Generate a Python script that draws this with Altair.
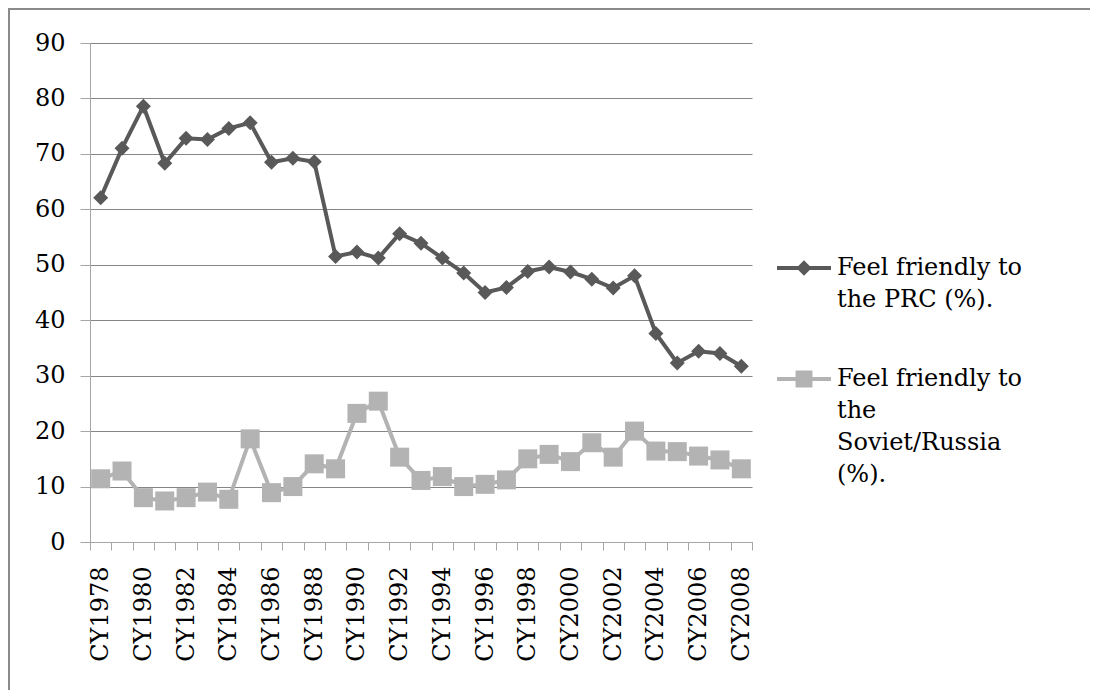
import altair as alt
import pandas as pd

years = ["CY1978", "CY1979", "CY1980", "CY1981", "CY1982", "CY1983", "CY1984", "CY1985",
         "CY1986", "CY1987", "CY1988", "CY1989", "CY1990", "CY1991", "CY1992", "CY1993",
         "CY1994", "CY1995", "CY1996", "CY1997", "CY1998", "CY1999", "CY2000", "CY2001",
         "CY2002", "CY2003", "CY2004", "CY2005", "CY2006", "CY2007", "CY2008"]
prc = [62.1, 71.0, 78.6, 68.3, 72.8, 72.6, 74.6, 75.6, 68.5, 69.2, 68.6, 51.5, 52.3, 51.2,
       55.6, 53.9, 51.2, 48.5, 45.0, 45.9, 48.8, 49.6, 48.7, 47.4, 45.8, 48.0, 37.6, 32.3,
       34.4, 34.0, 31.7]
russia = [11.4, 12.8, 8.0, 7.4, 8.0, 9.0, 7.7, 18.6, 8.9, 10.0, 14.1, 13.2, 23.2, 25.4,
          15.3, 11.1, 11.8, 10.0, 10.4, 11.2, 15.0, 15.8, 14.5, 17.9, 15.3, 20.0, 16.4, 16.3,
          15.5, 14.8, 13.2]
series_names = ["Feel friendly to the PRC (%).", "Feel friendly to the Soviet/Russia (%)."]
y_ticks = [0, 10, 20, 30, 40, 50, 60, 70, 80, 90]

DARK = "#595959"
LIGHT = "#b3b3b3"
FONT = "DejaVu Serif"

df = pd.DataFrame({
    "year": years + years,
    "value": prc + russia,
    "series": [series_names[0]] * len(years) + [series_names[1]] * len(years),
})

x_enc = alt.X(
    "year:N", sort=years,
    scale=alt.Scale(type="band", paddingInner=0, paddingOuter=0),
    axis=alt.Axis(
        title=None, tickBand="extent", labelAngle=270, labelOverlap=False,
        labelExpr="toNumber(substring(datum.value, 2)) % 2 == 0 ? datum.value : ''",
        tickSize=8, labelPadding=16, domainColor="#a6a6a6", tickColor="#a6a6a6",
        labelFont=FONT, labelFontSize=24, labelColor="#000000", grid=False,
    ),
)
y_enc = alt.Y(
    "value:Q", scale=alt.Scale(domain=[0, 90], nice=False),
    axis=alt.Axis(
        title=None, values=y_ticks, tickSize=10, labelPadding=15,
        domainColor="#a6a6a6", tickColor="#a6a6a6", gridColor="#858585", gridWidth=1.2,
        labelFont=FONT, labelFontSize=24, labelColor="#000000",
    ),
)

base = alt.Chart(df)

prc_line = base.transform_filter(alt.datum.series == series_names[0]).mark_line(
    color=DARK, strokeWidth=4).encode(x=x_enc, y=y_enc)
prc_pts = base.transform_filter(alt.datum.series == series_names[0]).mark_point(
    shape="diamond", filled=True, size=225, color=DARK, opacity=1).encode(x=x_enc, y=y_enc)
rus_line = base.transform_filter(alt.datum.series == series_names[1]).mark_line(
    color=LIGHT, strokeWidth=4).encode(x=x_enc, y=y_enc)
rus_pts = base.transform_filter(alt.datum.series == series_names[1]).mark_point(
    shape="square", filled=True, size=361, color=LIGHT, opacity=1).encode(x=x_enc, y=y_enc)

legend_paths = [
    "M-1,0L1,0M0,-0.18L0.18,0L0,0.18L-0.18,0Z",
    "M-1,0L1,0M-0.24,-0.24L0.24,-0.24L0.24,0.24L-0.24,0.24Z",
]
label_expr = ("datum.label == '" + series_names[0] + "' ? ['Feel friendly to', 'the PRC (%).'] : "
              "['Feel friendly to', 'the', 'Soviet/Russia', '(%).']")
leg = alt.Legend(
    title=None, orient="none", legendX=685, legendY=196, padding=0,
    symbolSize=2916, symbolStrokeWidth=4, labelOffset=4, rowPadding=38,
    labelFont=FONT, labelFontSize=24, labelColor="#000000",
    labelBaseline="middle", labelLimit=0, labelExpr=label_expr,
)
legend_layer = base.transform_filter("false").mark_point(filled=True, opacity=1).encode(
    x=x_enc, y=y_enc,
    fill=alt.Fill("series:N", scale=alt.Scale(domain=series_names, range=[DARK, LIGHT]), legend=leg),
    stroke=alt.Stroke("series:N", scale=alt.Scale(domain=series_names, range=[DARK, LIGHT]), legend=leg),
    shape=alt.Shape("series:N", scale=alt.Scale(domain=series_names, range=legend_paths), legend=leg),
)

frame = alt.Chart(pd.DataFrame({"a": [0]})).mark_rect(
    filled=False, stroke="#8a8a8a", strokeWidth=2).encode(
    x=alt.value(-81), x2=alt.value(1100), y=alt.value(-34), y2=alt.value(800))

chart = alt.layer(frame, prc_line, prc_pts, rus_line, rus_pts, legend_layer).properties(
    width=662, height=499,
    padding={"left": 82, "top": 35, "right": 338, "bottom": 148},
    autosize=alt.AutoSizeParams(type="none"),
).configure(
    style={"guide-label": {"lineHeight": 32}},
).configure_view(stroke=None)

chart.save("out.html", embed_options={"renderer": "svg", "actions": False})
